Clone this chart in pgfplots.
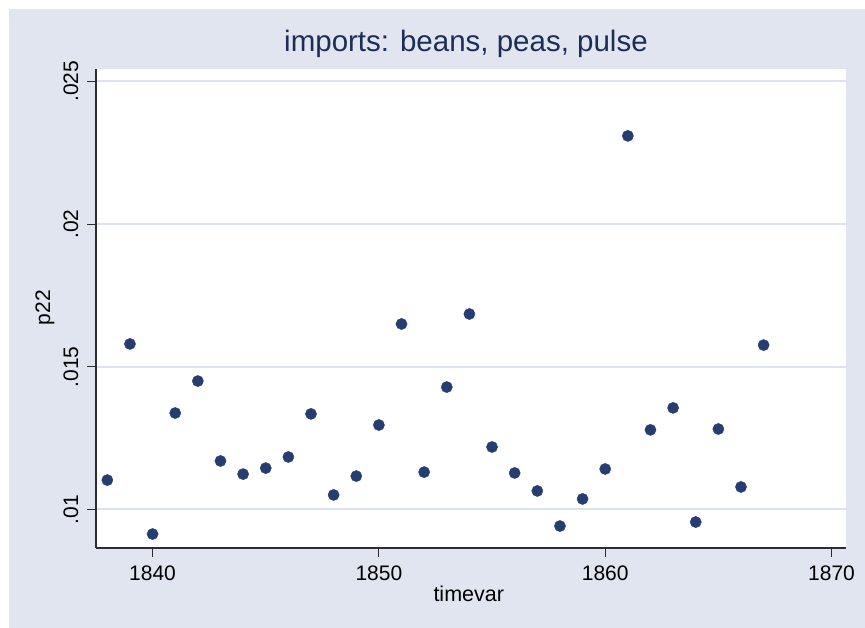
\documentclass[border=0pt]{standalone}
\usepackage{fontspec}
\setmainfont{Liberation Sans}
\usepackage{pgfplots}
\pgfplotsset{compat=1.18}
\definecolor{bgcol}{RGB}{224,229,240}
\definecolor{gridcol}{RGB}{220,226,240}
\definecolor{markcol}{RGB}{37,61,112}
\definecolor{titlecol}{RGB}{30,45,85}
\definecolor{axcol}{RGB}{45,45,45}
\begin{document}
\begin{tikzpicture}[x=1pt,y=1pt]
\fill[white] (0,0) rectangle (865,628);
\fill[bgcol] (9,0) rectangle (865,619);
\begin{axis}[
  at={(96pt,80pt)}, anchor=south west,
  width=750pt, height=479pt, scale only axis,
  xmin=1837.5, xmax=1870.64, ymin=0.008651, ymax=0.025434,
  axis background/.style={fill=white},
  axis lines=left,
  axis line style={-, draw=axcol, line width=1.2pt},
  tick align=outside,
  major tick length=9pt,
  tick style={draw=axcol, line width=0.9pt},
  xtick={1840,1850,1860,1870},
  xticklabels={1840,1850,1860,1870},
  ytick={0.01,0.015,0.02,0.025},
  yticklabels={.01,.015,.02,.025},
  scaled y ticks=false,
  ymajorgrids,
  major grid style={draw=gridcol, line width=2pt},
  xticklabel style={anchor=base, font=\fontsize{21}{25}\selectfont},
  xticklabel shift=23.7pt,
  yticklabel style={rotate=90, anchor=base, font=\fontsize{21}{25}\selectfont},
  yticklabel shift=9pt,
  title={imports: beans, peas, pulse},
  title style={at={(0.4933,1.025)}, anchor=base, font=\fontsize{29.5}{34}\selectfont, text=titlecol},
  xlabel={timevar},
  xlabel style={at={(0.497,-0.112)}, anchor=base, font=\fontsize{21.5}{25}\selectfont},
  ylabel={p22},
  ylabel style={at={(-0.0613,0.502)}, anchor=base, rotate=0, font=\fontsize{21}{25}\selectfont},
  clip=false,
]
\addplot[only marks, mark=*, mark size=5.6pt, mark options={fill=markcol, draw=markcol}] coordinates {
(1838,0.01103) (1839,0.01580) (1840,0.00914) (1841,0.01338) (1842,0.01450)
(1843,0.01170) (1844,0.01124) (1845,0.01145) (1846,0.01184) (1847,0.01335)
(1848,0.01051) (1849,0.01117) (1850,0.01296) (1851,0.01650) (1852,0.01131)
(1853,0.01429) (1854,0.01685) (1855,0.01219) (1856,0.01128) (1857,0.01065)
(1858,0.00942) (1859,0.01037) (1860,0.01142) (1861,0.02309) (1862,0.01279)
(1863,0.01356) (1864,0.00956) (1865,0.01282) (1866,0.01079) (1867,0.01576)
};
\end{axis}
\pgfresetboundingbox
\useasboundingbox (0,0) rectangle (865,628);
\end{tikzpicture}
\end{document}
